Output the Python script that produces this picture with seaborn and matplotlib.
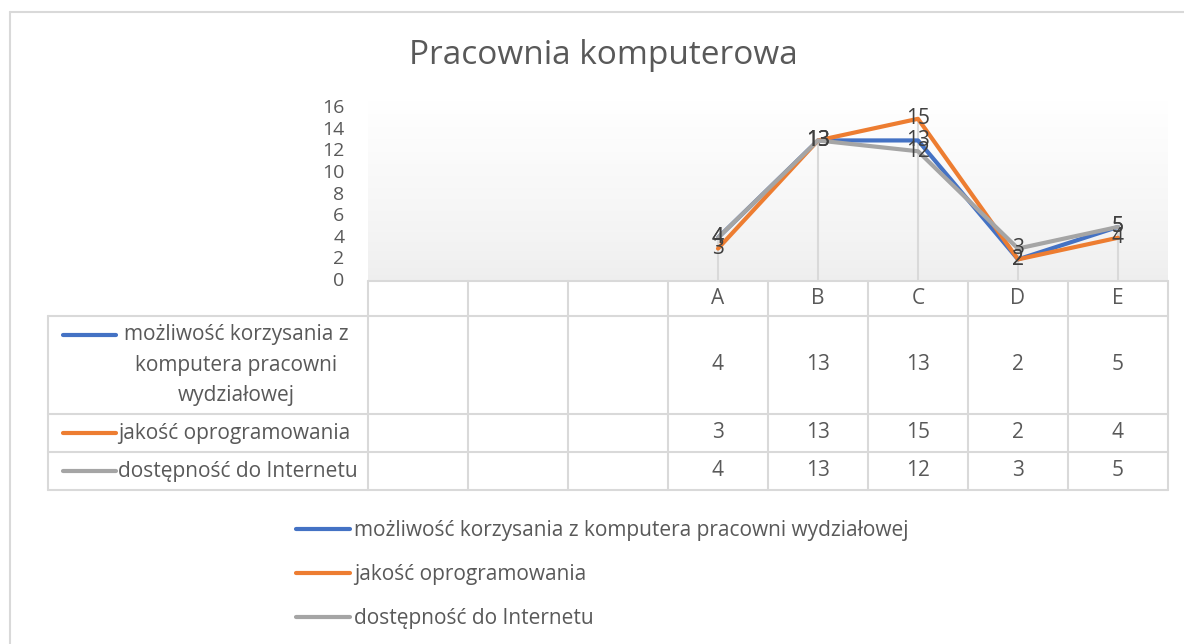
import textwrap
import numpy as np
import pandas as pd
import matplotlib
matplotlib.use("Agg")
import matplotlib.pyplot as plt
import matplotlib.transforms as mtransforms
from matplotlib.lines import Line2D
import seaborn as sns

# data
categories = ["", "", "", "A", "B", "C", "D", "E"]
series_names = [
    "możliwość korzysania z komputera pracowni wydziałowej",
    "jakość oprogramowania",
    "dostępność do Internetu",
]
korzystanie = [None, None, None, 4, 13, 13, 2, 5]
oprogramowanie = [None, None, None, 3, 13, 15, 2, 4]
internet = [None, None, None, 4, 13, 12, 3, 5]
colors = ["#4472C4", "#ED7D31", "#A5A5A5"]
title = "Pracownia komputerowa"

all_values = [korzystanie, oprogramowanie, internet]
rows = []
for name, vals in zip(series_names, all_values):
    for i, v in enumerate(vals):
        if v is not None:
            rows.append({"pos": i, "value": v, "series": name})
df = pd.DataFrame(rows)

sns.set_theme(style="white")
plt.rcParams["font.family"] = ["Open Sans", "DejaVu Sans"]

W, H = 1184, 644
fig = plt.figure(figsize=(W / 100, H / 100), dpi=100)


def fx(x):
    return x / W


def fy(y):
    return 1 - y / H


text_color = "#595959"
grid_color = "#d9d9d9"
fs = 14
fs_lab = 15

# plot area: x 368..1168, y 100..281 px
ax = fig.add_axes([fx(368), fy(281), fx(1168) - fx(368), (281 - 100) / H])
ymax = (281 - 100) / ((281 - 108) / 16)

# gradient background (white at top)
grad = np.linspace(1, 0, 256).reshape(-1, 1)
cmap = matplotlib.colors.LinearSegmentedColormap.from_list("g", ["#eeeeee", "#ffffff"])
ax.imshow(grad ** 0.8, aspect="auto", cmap=cmap, extent=[-0.5, len(categories) - 0.5, 0, ymax],
          origin="upper", zorder=0)
ax.set_xlim(-0.5, len(categories) - 0.5)
ax.set_ylim(0, ymax)

# drop lines
tops = df.groupby("pos")["value"].max()
ax.vlines(tops.index, 0, tops.values, color=grid_color, lw=1.5, zorder=1)

sns.lineplot(data=df, x="pos", y="value", hue="series", hue_order=series_names,
             palette=colors, lw=3, sort=False, legend=False, ax=ax, zorder=3)
for line in ax.lines:
    line.set_solid_capstyle("round")
    line.set_solid_joinstyle("round")

# data labels
for _, r in df.iterrows():
    ax.text(r["pos"], r["value"], str(r["value"]), ha="center", va="center",
            fontsize=fs_lab, color="#404040", zorder=4)

ax.set_yticks(range(0, 17, 2))
ax.set_xticks([])
ax.tick_params(axis="y", length=0, pad=17, labelsize=fs, labelcolor=text_color)
for lab in ax.get_yticklabels():
    lab.set_va("center")
ax.set_xlabel("")
ax.set_ylabel("")
for s in ax.spines.values():
    s.set_visible(False)

# title
fig.text(fx(603), fy(55), title, ha="center", va="center", fontsize=24, color=text_color)

# data table
tr = mtransforms.blended_transform_factory(ax.transData, fig.transFigure)


def hline(x0, x1, y):
    fig.add_artist(Line2D([fx(x0), fx(x1)], [fy(y), fy(y)], transform=fig.transFigure,
                          color=grid_color, lw=1.5))


def vline(x, y0, y1):
    fig.add_artist(Line2D([fx(x), fx(x)], [fy(y0), fy(y1)], transform=fig.transFigure,
                          color=grid_color, lw=1.5))


row_edges = [281, 316, 414, 452, 490]
hline(368, 1168, 281)
for y in row_edges[1:]:
    hline(48, 1168, y)
for i in range(len(categories) + 1):
    vline(368 + 100 * i, 281, 490)
vline(48, 316, 490)

# header
for i, c in enumerate(categories):
    ax.text(i, fy(299), c, transform=tr, ha="center", va="center", fontsize=fs_lab, color=text_color)

row_centers = [365, 433, 471]
for name, vals, col, yc in zip(series_names, all_values, colors, row_centers):
    for i, v in enumerate(vals):
        if v is not None:
            ax.text(i, fy(yc), str(v), transform=tr, ha="center", va="center",
                    fontsize=fs_lab, color=text_color)
    lines = textwrap.wrap(name, 24)
    if len(lines) == 1:
        key_y = yc
        fig.text(fx(118), fy(yc), name, ha="left", va="center", fontsize=fs_lab, color=text_color)
    else:
        step = 30.5
        y0 = yc - step * (len(lines) - 1) / 2
        key_y = y0
        for k, ln in enumerate(lines):
            fig.text(fx(236), fy(y0 + k * step), ln, ha="center", va="center",
                     fontsize=fs_lab, color=text_color)
    fig.add_artist(Line2D([fx(63), fx(116)], [fy(key_y), fy(key_y)], transform=fig.transFigure,
                          color=col, lw=3, solid_capstyle="round"))

# legend below
handles = [Line2D([], [], color=c, lw=3, solid_capstyle="round") for c in colors]
fig.legend(handles, series_names, loc="upper left", bbox_to_anchor=(fx(296), fy(520)),
           frameon=False, fontsize=fs_lab, labelcolor=text_color, handlelength=2.6,
           handletextpad=0.2, labelspacing=1.1, borderpad=0, borderaxespad=0)

# chart border
fig.add_artist(Line2D([fx(10), fx(1184)], [fy(12), fy(12)], transform=fig.transFigure,
                      color=grid_color, lw=1.5))
fig.add_artist(Line2D([fx(10), fx(10)], [fy(12), fy(644)], transform=fig.transFigure,
                      color=grid_color, lw=1.5))

fig.savefig("out.png", dpi=100)
